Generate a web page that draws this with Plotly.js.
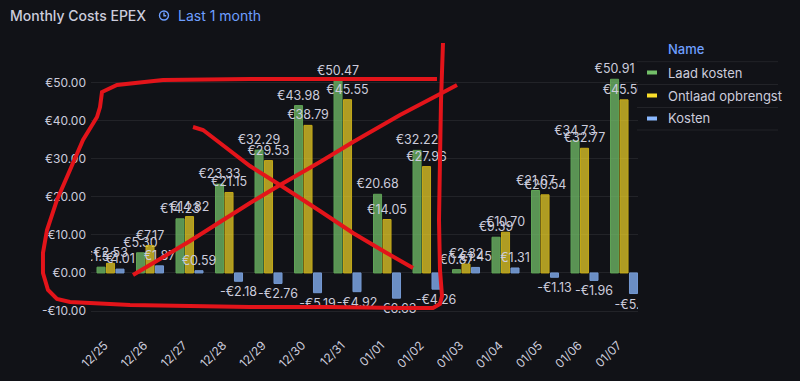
<!DOCTYPE html>
<html>
<head>
<meta charset="utf-8">
<script src="https://cdn.plot.ly/plotly-3.0.1.min.js"></script>
<style>
html,body{margin:0;padding:0;background:#111217;}
#chart{width:800px;height:381px;}
</style>
</head>
<body>
<div id="chart"></div>
<script>
// ---- data ----
const categories = ["12/25","12/26","12/27","12/28","12/29","12/30","12/31","01/01","01/02","01/03","01/04","01/05","01/06","01/07"];
const laadKosten = [1.52, 5.30, 14.23, 23.33, 32.29, 43.98, 50.47, 20.68, 32.22, 0.87, 9.39, 21.67, 34.73, 50.91];
const ontlaadOpbrengst = [2.53, 7.17, 14.82, 21.15, 29.53, 38.79, 45.55, 14.05, 27.96, 2.32, 10.70, 20.54, 32.77, 45.50];
const kosten = [1.01, 1.87, 0.59, -2.18, -2.76, -5.19, -4.92, -6.63, -4.26, 1.45, 1.31, -1.13, -1.96, -5.41];
const seriesNames = ["Laad kosten", "Ontlaad opbrengst", "Kosten"];
const yTickVals = [-10, 0, 10, 20, 30, 40, 50];
const yTickText = ["-€10.00", "€0.00", "€10.00", "€20.00", "€30.00", "€40.00", "€50.00"];
const panelTitle = "Monthly Costs EPEX";
const timeRangeText = "Last 1 month";
const legendHeader = "Name";

// ---- styling ----
const W = 800, H = 381;
const L = 91, R = 638, T = 60, B = 318;
const fx = p => (p - L) / (R - L);
const fy = p => (B - p) / (B - T);
const txtColor = "#ccccdc";
const blueText = "#6e9fff";
const fills = ["rgba(115,191,105,0.75)", "rgba(250,222,42,0.68)", "rgba(138,184,255,0.75)"];
const lines = ["#5fa356", "#c4a817", "#7499d2"];
const legendColors = ["#73bf69", "#fade2a", "#8ab8ff"];
const fmt = v => (v < 0 ? "-€" : "€") + Math.abs(v).toFixed(2);

const allSeries = [laadKosten, ontlaadOpbrengst, kosten];
const traces = allSeries.map((vals, i) => ({
  type: "bar",
  name: seriesNames[i],
  x: categories,
  y: vals,
  text: vals.map(fmt),
  textposition: "outside",
  constraintext: "none",
  cliponaxis: true,
  textfont: {family: "Inter, sans-serif", size: 12.5, color: txtColor},
  marker: {color: fills[i], line: {color: lines[i], width: 1}},
  hoverinfo: "none"
}));

// red hand-drawn strokes (pixel coordinates of the overlay scribbles)
const redStrokes = [
  [[437,79],[330,79],[250,79],[163,80],[117,85],[102,92],[100,107],[97,117],[83,140],[70,170],[57,200],[47,230],[43,253],[43,273],[48,290],[57,299],[70,302],[130,305],[250,307],[330,307],[400,308],[433,308]],
  [[443,43],[441,100],[440,160],[439,220],[440,270],[442,296],[440,304],[433,308],[420,308]],
  [[193,127],[203,130],[220,143],[250,166],[280,185],[320,211],[353,233],[385,252],[413,268]],
  [[133,275],[160,259],[190,241],[220,222],[250,203],[280,185],[320,162],[353,142],[400,115],[440,94],[457,85]]
];
const shapes = [];
redStrokes.forEach(st => {
  const d = st.map((p, k) => (k ? "L" : "M") + fx(p[0]).toFixed(4) + "," + fy(p[1]).toFixed(4)).join(" ");
  shapes.push({type: "path", xref: "paper", yref: "paper", path: d, layer: "above",
    line: {color: "#e3141a", width: 4}});
});

// legend table separators and markers
const rowY = [72.5, 95.5, 118.5];
[61.7, 84.5, 107.5, 130].forEach(y => shapes.push({type: "line", xref: "paper", yref: "paper",
  x0: fx(637), x1: fx(778), y0: fy(y), y1: fy(y), line: {color: "#222328", width: 1}}));
rowY.forEach((y, i) => shapes.push({type: "line", xref: "paper", yref: "paper",
  x0: fx(647), x1: fx(657), y0: fy(y), y1: fy(y), line: {color: legendColors[i], width: 4}}));
// clock icon
shapes.push({type: "circle", xref: "paper", yref: "paper", x0: fx(159.5), x1: fx(168.5), y0: fy(11), y1: fy(20),
  line: {color: blueText, width: 1.4}});
shapes.push({type: "path", xref: "paper", yref: "paper",
  path: "M" + fx(164) + "," + fy(12.5) + " L" + fx(164) + "," + fy(15.7) + " L" + fx(166.2) + "," + fy(15.7),
  line: {color: blueText, width: 1.4}});

const annotations = [
  {text: panelTitle, x: fx(8), y: fy(16), xref: "paper", yref: "paper", xanchor: "left", yanchor: "middle",
   showarrow: false, font: {family: "Inter, sans-serif", size: 14, color: txtColor, weight: 500}},
  {text: timeRangeText, x: fx(176), y: fy(16), xref: "paper", yref: "paper", xanchor: "left", yanchor: "middle",
   showarrow: false, font: {family: "Inter, sans-serif", size: 14, color: blueText}},
  {text: legendHeader, x: fx(666), y: fy(49.5), xref: "paper", yref: "paper", xanchor: "left", yanchor: "middle",
   showarrow: false, font: {family: "Inter, sans-serif", size: 13, color: blueText, weight: 500}}
];
seriesNames.forEach((n, i) => annotations.push({text: n, x: fx(666), y: fy(rowY[i]), xref: "paper", yref: "paper",
  xanchor: "left", yanchor: "middle", showarrow: false,
  font: {family: "Inter, sans-serif", size: 13, color: txtColor}}));

const layout = {
  width: W, height: H,
  margin: {l: L, r: W - R, t: T, b: H - B, pad: 0},
  paper_bgcolor: "#111217", plot_bgcolor: "#111217",
  showlegend: false,
  barmode: "group", bargap: 0.28, bargroupgap: 0.15,
  font: {family: "Inter, sans-serif", color: txtColor},
  xaxis: {type: "category", range: [-0.494, 13.354], showgrid: false, zeroline: false, showline: false,
    ticks: "", tickangle: -45, tickfont: {size: 12, color: txtColor},
    ticklabelstandoff: 17, ticklabelshift: -6},
  yaxis: {range: [-11.84, 55.97], tickvals: yTickVals, ticktext: yTickText, showgrid: true,
    gridcolor: "#222328", gridwidth: 1, zeroline: false, showline: false, ticks: "",
    tickfont: {size: 12, color: txtColor}, ticklabelstandoff: 4},
  shapes: shapes,
  annotations: annotations
};

Plotly.newPlot("chart", traces, layout, {displayModeBar: false, staticPlot: true});
</script>
</body>
</html>
